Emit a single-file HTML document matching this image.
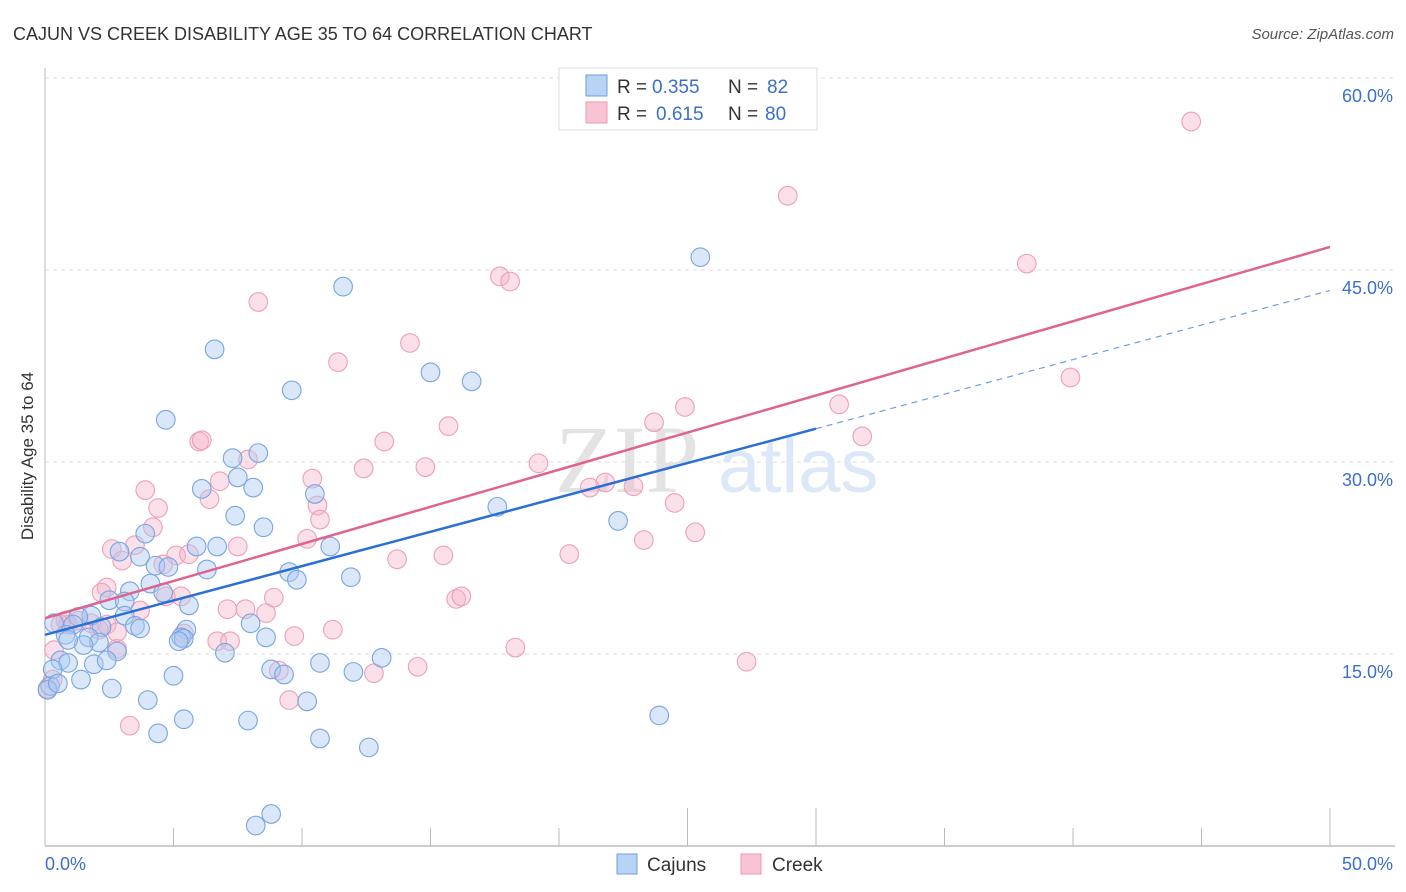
<!DOCTYPE html>
<html><head><meta charset="utf-8"><style>
body{margin:0;background:#fff;font-family:"Liberation Sans",sans-serif}
</style></head><body>
<svg id="chart" width="1406" height="892" xmlns="http://www.w3.org/2000/svg" style="display:block">
<text x="13" y="40" font-size="18" fill="#333">CAJUN VS CREEK DISABILITY AGE 35 TO 64 CORRELATION CHART</text>
<text x="1394" y="39" font-size="15" fill="#555" font-style="italic" text-anchor="end">Source: ZipAtlas.com</text>
<g id="grid"></g>
<text x="555" y="492" font-size="96" font-family="Liberation Serif,serif" fill="#e3e3e3">ZIP</text>
<text x="718" y="492" font-size="76" fill="#dce8f7">atlas</text>
<g id="pts"></g>
<g id="lines"></g>
<text transform="translate(33,456) rotate(-90)" font-size="17" fill="#333" text-anchor="middle">Disability Age 35 to 64</text>
<g font-size="19">
<rect x="559" y="68" width="258" height="62" fill="#fff" stroke="#ddd"/>
<rect x="586" y="75" width="21" height="21" fill="#b8d3f3" stroke="#6d9ee0"/>
<rect x="586" y="102" width="21" height="21" fill="#f8c3d3" stroke="#eb98b2"/>
<text x="617" y="93" fill="#333">R =</text>
<text x="652" y="93" fill="#3a70cc">0.355</text>
<text x="728" y="93" fill="#333">N =</text>
<text x="767" y="93" fill="#3a70cc">82</text>
<text x="617" y="120" fill="#333">R =</text>
<text x="656" y="120" fill="#3a70cc">0.615</text>
<text x="728" y="120" fill="#333">N =</text>
<text x="765" y="120" fill="#3a70cc">80</text>
</g>
<g>
<rect x="617" y="854" width="20" height="20" fill="#b8d3f3" stroke="#6d9ee0"/>
<text x="647" y="871" font-size="19" fill="#333">Cajuns</text>
<rect x="741" y="854" width="20" height="20" fill="#f8c3d3" stroke="#eb98b2"/>
<text x="772" y="871" font-size="19" fill="#333">Creek</text>
</g>
</svg>
<script>
const yTicks=[15,30,45,60];
const xTickLabels=["0.0%","50.0%"];
const cajunX=[25.5,11.6,6.6,9.6,15.0,16.6,4.7,7.3,8.3,6.1,7.5,8.1,10.5,7.4,8.5,3.9,17.6,22.3,2.9,3.7,5.9,6.7,11.1,6.3,9.5,9.8,11.9,4.3,4.8,4.1,3.3,4.6,2.5,3.1,5.6,1.8,3.1,1.3,1.1,2.2,3.5,3.7,5.5,5.3,5.4,0.8,1.7,2.1,5.2,1.5,0.35,0.9,2.8,8.0,7.0,8.6,0.6,0.9,1.9,2.4,5.0,8.8,9.3,10.7,12.0,13.1,1.4,2.6,0.2,0.1,4.0,10.2,5.4,7.9,23.9,4.4,10.7,12.6,8.2,8.8,0.3,0.5];
const cajunY=[46.0,43.7,38.8,35.6,37.0,36.3,33.3,30.3,30.7,27.9,28.8,28.0,27.5,25.8,24.9,24.4,26.5,25.4,23.0,22.6,23.4,23.4,23.4,21.6,21.4,20.8,21.0,21.9,21.8,20.5,19.9,19.8,19.2,19.1,18.8,18.0,18.0,17.9,17.3,17.1,17.2,17.0,16.9,16.3,16.2,16.5,16.3,15.9,16.0,15.7,17.4,16.1,15.2,17.4,15.1,16.3,14.5,14.3,14.2,14.5,13.3,13.8,13.4,14.3,13.6,14.7,13.0,12.3,12.5,12.2,11.4,11.3,9.9,9.8,10.2,8.8,8.4,7.7,1.6,2.5,13.8,12.7];
const creekX=[44.6,28.9,38.2,17.7,18.1,8.3,14.2,11.4,39.9,24.9,30.9,15.7,23.7,31.8,13.2,6.0,6.1,7.9,12.4,14.8,19.2,3.9,6.8,6.4,10.4,21.8,22.9,21.2,4.4,10.6,10.7,24.5,4.2,7.5,10.2,25.3,23.3,2.6,3.5,3.0,5.1,5.6,15.5,13.7,20.4,4.6,2.4,2.2,4.7,5.3,8.9,3.7,7.1,7.8,8.6,16.0,16.2,0.8,1.3,1.8,2.4,0.9,2.8,11.2,9.7,5.4,6.7,7.2,18.3,0.35,2.8,9.1,12.8,14.5,27.3,9.5,3.3,0.1,0.6,2.1,0.3];
const creekY=[56.6,50.8,45.5,44.5,44.1,42.5,39.3,37.8,36.6,34.3,34.5,32.8,33.1,32.0,31.6,31.6,31.7,30.2,29.5,29.6,29.9,27.8,28.5,27.1,28.7,28.4,28.1,28.0,26.4,26.6,25.5,26.8,24.9,23.4,24.0,24.5,23.9,23.2,23.5,22.3,22.7,22.8,22.7,22.4,22.8,22.0,20.2,19.8,19.5,19.5,19.4,18.4,18.5,18.5,18.2,19.3,19.5,17.6,17.6,17.4,17.3,17.3,16.7,16.9,16.4,16.6,16.0,16.0,15.5,15.3,15.4,13.7,13.5,14.0,14.4,11.4,9.4,12.3,17.3,16.9,13.0];
const cajunTrend=[16.5,32.6,43.4]; // at x=0, 30, 50
const creekTrend=[17.8,46.8]; // at x=0, 50
const NS="http://www.w3.org/2000/svg";
const X=v=>45+v/50*1285, Y=v=>846-v*12.8;
function mk(t,a,p){const e=document.createElementNS(NS,t);for(const k in a)e.setAttribute(k,a[k]);p.appendChild(e);return e;}
const grid=document.getElementById('grid');
yTicks.forEach(t=>{
 const l=mk('line',{x1:45,x2:1395,y1:Y(t),y2:Y(t),stroke:'#ddd','stroke-dasharray':'4,4'},grid);
 
 
 const tx=mk('text',{x:1393,y:Y(t)+24,'font-size':18,fill:'#3a70cc','text-anchor':'end'},grid);
 tx.textContent=t.toFixed(1)+'%';
 
 
});
const ax=mk('line',{x1:45,x2:45,y1:68,y2:846,stroke:'#bbb'},grid);


const bx=mk('line',{x1:45,x2:1395,y1:846,y2:846,stroke:'#bbb','stroke-width':1.5},grid);


for(let v=5;v<=50;v+=5){
 const tk=mk('line',{x1:X(v),x2:X(v),y1:(v==25||v==30||v==50)?808:828,y2:846,stroke:'#bbb'},grid);
 
 
}
[[0,'start'],[50,'end']].forEach((d,i)=>{
 const tx=mk('text',{x:i?1393:45,y:870,'font-size':18,fill:'#3a70cc','text-anchor':d[1]},grid);
 tx.textContent=xTickLabels[i];
 
 
});
const pts=document.getElementById('pts');
creekX.forEach((v,i)=>{
 const c=mk('circle',{cx:X(v),cy:Y(creekY[i]),r:9.3,fill:'rgba(246,178,199,0.4)',stroke:'#eda0b8','stroke-width':1.1},pts);
 
 
});
cajunX.forEach((v,i)=>{
 const c=mk('circle',{cx:X(v),cy:Y(cajunY[i]),r:9.3,fill:'rgba(170,202,242,0.45)',stroke:'#78a5e2','stroke-width':1.1},pts);
 
 
});
const lines=document.getElementById('lines');
const l1=mk('line',{x1:X(0),y1:Y(creekTrend[0]),x2:X(50),y2:Y(creekTrend[1]),stroke:'#e0638d','stroke-width':2.5},lines);


const l2=mk('line',{x1:X(0),y1:Y(cajunTrend[0]),x2:X(30),y2:Y(cajunTrend[1]),stroke:'#2a6fd6','stroke-width':2.5},lines);


const l3=mk('line',{x1:X(30),y1:Y(cajunTrend[1]),x2:X(50),y2:Y(cajunTrend[2]),stroke:'#6d9ee0','stroke-width':1.2,'stroke-dasharray':'6,5'},lines);


</script>
</body></html>
